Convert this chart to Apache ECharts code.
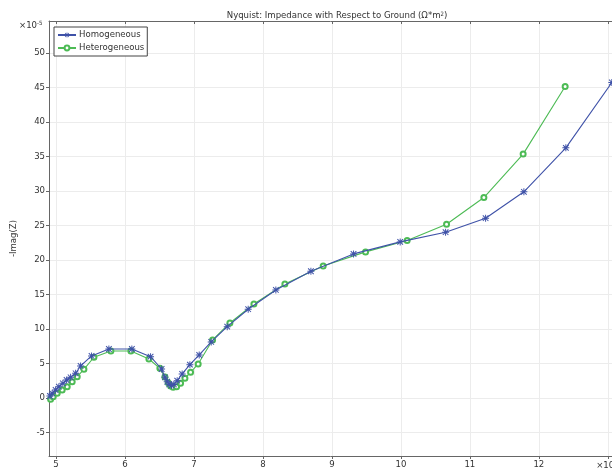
<!DOCTYPE html>
<html>
<head>
<meta charset="utf-8">
<script src="https://cdn.jsdelivr.net/npm/echarts@6/dist/echarts.min.js"></script>
<style>
html,body{margin:0;padding:0;background:#fff;}
#chart{width:612px;height:475px;}
</style>
</head>
<body>
<div id="chart"></div>
<script>
// Homogeneous (blue, asterisk markers)
const homoX = [4.913, 4.946, 4.996, 5.043, 5.101, 5.155, 5.213, 5.286, 5.358, 5.517, 5.768, 6.101, 6.372, 6.532, 6.580, 6.613, 6.642, 6.674, 6.710, 6.758, 6.830, 6.942, 7.077, 7.251, 7.483, 7.787, 8.188, 8.696, 9.314, 9.990, 10.648, 11.228, 11.783, 12.391, 13.058];
const homoY = [0.29, 0.68, 1.16, 1.64, 2.13, 2.61, 3.00, 3.58, 4.64, 6.09, 7.10, 7.10, 5.99, 4.20, 3.00, 2.36, 1.99, 1.81, 1.96, 2.51, 3.48, 4.83, 6.23, 8.12, 10.33, 12.86, 15.65, 18.36, 20.87, 22.61, 24.01, 26.04, 29.86, 36.23, 45.70];
// Heterogeneous (green, open circles)
const heteroX = [4.923, 4.961, 5.019, 5.091, 5.164, 5.236, 5.309, 5.406, 5.551, 5.797, 6.087, 6.348, 6.507, 6.580, 6.628, 6.662, 6.700, 6.749, 6.807, 6.870, 6.952, 7.062, 7.271, 7.522, 7.870, 8.319, 8.874, 9.488, 10.091, 10.662, 11.203, 11.772, 12.381];
const heteroY = [-0.19, 0.19, 0.68, 1.16, 1.64, 2.36, 3.09, 4.16, 5.90, 6.81, 6.81, 5.65, 4.30, 3.04, 2.22, 1.74, 1.55, 1.64, 2.13, 2.86, 3.72, 4.93, 8.41, 10.87, 13.62, 16.52, 19.13, 21.16, 22.80, 25.17, 29.03, 35.32, 45.12];
const xTicks = [5, 6, 7, 8, 9, 10, 11, 12, 13];
const yTicks = [-5, 0, 5, 10, 15, 20, 25, 30, 35, 40, 45, 50];

const zip = (xs, ys) => xs.map((x, i) => [x, ys[i]]);
const star = 'path://M4.3,0 h1.4 v10 h-1.4 Z M0,4.3 h10 v1.4 h-10 Z M1.5,0.5 L9.5,8.5 L8.5,9.5 L0.5,1.5 Z M8.5,0.5 L9.5,1.5 L1.5,9.5 L0.5,8.5 Z';
const txt = '#333';
const font = '"DejaVu Sans Condensed", "DejaVu Sans", sans-serif';
const fs = 9.5;

const chart = echarts.init(document.getElementById('chart'), null, {renderer: 'canvas'});
chart.setOption({
  animation: false,
  backgroundColor: '#fff',
  textStyle: {fontFamily: font},
  title: {
    text: 'Nyquist: Impedance with Respect to Ground (Ω*m{sup|2})',
    left: 332, top: 6, textAlign: 'center',
    textStyle: {fontSize: fs, fontWeight: 'normal', color: txt, fontFamily: font,
      rich: {sup: {fontSize: 6, fontFamily: font, verticalAlign: 'top', lineHeight: 8, color: txt, padding:[0,0,6,0]}}}
  },
  legend: {
    left: 54, top: 27, orient: 'vertical',
    backgroundColor: '#fff', borderColor: '#444', borderWidth: 1, borderRadius: 0,
    padding: [3, 3, 3, 3], itemGap: 3, itemWidth: 18, itemHeight: 6,
    textStyle: {fontSize: fs, color: txt, fontFamily: font, padding: [0,0,0,-2]},
    data: ['Homogeneous', 'Heterogeneous']
  },
  graphic: [{
    type: 'text', left: 19, top: 20,
    style: {text: '×10{sup|-5}', fill: txt, font: fs + 'px ' + font,
      rich: {sup: {fontSize: 6, fontFamily: font, verticalAlign: 'top', padding:[0,0,6,0]}}}
  }],
  grid: {left: 49, right: 0, top: 21, bottom: 19, containLabel: false, outerBoundsMode: 'none'},
  xAxis: [{
    type: 'value', min: 4.9, max: 13.06, splitNumber: 8, minInterval: 1, maxInterval: 1,
    name: 'Real(Z)', nameLocation: 'middle', nameGap: 9,
    nameTextStyle: {fontSize: fs, color: txt, fontFamily: font},
    axisLine: {show: true, onZero: false, lineStyle: {color: '#666', width: 1}},
    axisTick: {show: true, inside: false, length: 3, lineStyle: {color: '#666'}, customValues: xTicks},
    axisLabel: {fontSize: fs, color: txt, fontFamily: font, margin: 4, customValues: xTicks,
      formatter: v => v === 13 ? '×10{sup|-4}' : String(v),
      rich: {sup: {fontSize: 6, fontFamily: font, verticalAlign: 'top', padding:[0,0,6,0]}}},
    splitLine: {show: true, lineStyle: {color: '#ececec', width: 1}}
  }, {
    type: 'value', position: 'top', min: 4.9, max: 13.06, splitNumber: 8, minInterval: 1, maxInterval: 1,
    axisLine: {show: true, onZero: false, lineStyle: {color: '#666', width: 1}},
    axisTick: {show: true, inside: true, length: 3, lineStyle: {color: '#666'}, customValues: xTicks},
    axisLabel: {show: false},
    splitLine: {show: false}
  }],
  yAxis: [{
    type: 'value', min: -8.4, max: 54.6, splitNumber: 12, minInterval: 5, maxInterval: 5,
    name: '-Imag(Z)', nameLocation: 'middle', nameGap: 30, nameRotate: 90,
    nameTextStyle: {fontSize: fs, color: txt, fontFamily: font},
    axisLine: {show: true, onZero: false, lineStyle: {color: '#666', width: 1}},
    axisTick: {show: true, inside: false, length: 3, lineStyle: {color: '#666'}, customValues: yTicks},
    axisLabel: {fontSize: fs, color: txt, fontFamily: font, margin: 4, customValues: yTicks},
    splitLine: {show: true, lineStyle: {color: '#ececec', width: 1}}
  }],
  series: [{
    name: 'Homogeneous', type: 'line', data: zip(homoX, homoY),
    symbol: star, symbolSize: 7, showAllSymbol: true, clip: true,
    lineStyle: {color: '#3f52a8', width: 1.1},
    itemStyle: {color: '#3f52a8'},
    z: 3
  }, {
    name: 'Heterogeneous', type: 'line', data: zip(heteroX, heteroY),
    symbol: 'emptyCircle', symbolSize: 5, showAllSymbol: true, clip: true,
    lineStyle: {color: '#4dbb55', width: 1.1},
    itemStyle: {color: '#4dbb55', borderWidth: 1},
    z: 2
  }]
});
</script>
</body>
</html>
